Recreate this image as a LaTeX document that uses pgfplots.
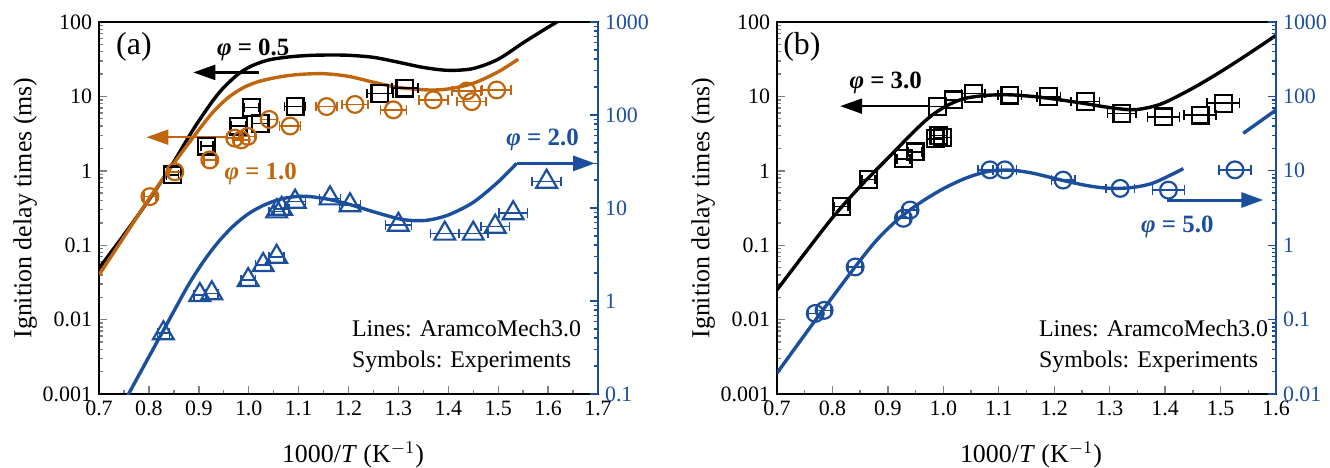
\documentclass[border=0pt]{standalone}
\usepackage{fontspec}
\setmainfont{Liberation Serif}
\usepackage{pgfplots}
\pgfplotsset{compat=1.18}
\usetikzlibrary{arrows.meta}
\definecolor{cOr}{HTML}{C0650C}
\definecolor{cBl}{HTML}{1B4F9E}
\pgfkeys{/pgf/number format/assume math mode=true}

\pgfplotsset{
  mk/.style={only marks, line width=1.1bp,
    error bars/x dir=both, error bars/x explicit,
    error bars/error mark=|,
    error bars/error bar style={line width=0.8bp},
    error bars/error mark options={mark size=2.4bp, line width=0.8bp}},
  curve/.style={line width=1.7bp, smooth, no marks},
}
\tikzset{
  phi/.style={font=\fontsize{12.5}{14}\selectfont\bfseries},
  note/.style={font=\fontsize{12}{14}\selectfont, anchor=base west},
  arr/.style={line width=1.1bp, -{Triangle[length=11bp,width=7.5bp]}},
}

\begin{document}
\begin{tikzpicture}
\useasboundingbox (-49.5bp,-37bp) rectangle (615.5bp,197bp);

% ---------------- panel (a), left axis ----------------
\begin{axis}[at={(0,0)}, anchor=south west,
  scale only axis, width=249.5bp, height=186bp, ymode=log,
  tick align=inside, major tick length=4bp, minor tick length=2.2bp,
  tick style={line width=0.7bp}, axis line style={line width=0.9bp},
  tick label style={font=\fontsize{11}{13}\selectfont},
  xmin=0.7, xmax=1.7, ymin=0.001, ymax=100,
  xtick={0.7,0.8,0.9,1.0,1.1,1.2,1.3,1.4,1.5,1.6,1.7}, minor x tick num=1,
  xticklabel style={/pgf/number format/.cd, fixed, fixed zerofill, precision=1},
  ytick={0.001,0.01,0.1,1,10,100}, yticklabels={0.001,0.01,0.1,1,10,100},
  minor ytick={0.002,0.003,0.004,0.005,0.006,0.007,0.008,0.009,
    0.02,0.03,0.04,0.05,0.06,0.07,0.08,0.09,0.2,0.3,0.4,0.5,0.6,0.7,0.8,0.9,
    2,3,4,5,6,7,8,9,20,30,40,50,60,70,80,90},
  xtick pos=bottom, ytick pos=left,
  xlabel={1000/\textit{T} (K$^{-1}$)}, ylabel={Ignition delay times (ms)},
  label style={font=\fontsize{13}{15}\selectfont},
  xlabel style={at={(axis description cs:0.509,-0.164)}, anchor=center},
  ylabel style={at={(axis description cs:-0.148,0.5)}, anchor=center},
]
\addplot[curve, black] coordinates {(0.70,0.049)(0.75,0.138)(0.80,0.407)(0.832,0.851)(0.85,1.318)(0.881,2.95)(0.90,4.68)(0.929,8.91)(0.95,13.18)(0.979,19.95)(1.006,25.7)(1.04,30.9)(1.08,33.9)(1.12,35.5)(1.16,36.0)(1.2,35.7)(1.25,33.5)(1.3,28.8)(1.35,24.5)(1.4,22.4)(1.45,23.7)(1.5,31.6)(1.55,52.5)(1.6,85)(1.65,135)};
\addplot[curve, cOr] coordinates {(0.70,0.0398)(0.75,0.129)(0.80,0.417)(0.85,1.259)(0.90,3.55)(0.93,6.31)(0.96,9.77)(0.99,13.18)(1.02,15.85)(1.06,18.2)(1.10,19.7)(1.15,20.2)(1.20,18.6)(1.25,15.5)(1.30,13.2)(1.36,12.2)(1.40,12.6)(1.45,15.0)(1.50,21.4)(1.54,31.6)};
\addplot[mk, black, mark=square, mark size=4.2bp] coordinates {
  (0.847,0.88) +- (0.012,0) (0.916,2.15) +- (0.012,0) (0.979,4.0) +- (0.015,0)
  (1.006,7.1) +- (0.015,0) (1.023,4.3) +- (0.015,0) (1.093,7.3) +- (0.021,0)
  (1.263,11.0) +- (0.026,0) (1.313,12.9) +- (0.026,0)};
\addplot[mk, cOr, mark=o, mark size=4.2bp] coordinates {
  (0.802,0.45) +- (0.012,0) (0.852,0.97) +- (0.012,0) (0.922,1.4) +- (0.012,0)
  (0.972,2.75) +- (0.015,0) (0.985,2.6) +- (0.015,0) (0.998,2.9) +- (0.015,0)
  (1.041,4.9) +- (0.015,0) (1.083,4.0) +- (0.021,0) (1.156,7.3) +- (0.021,0)
  (1.213,7.8) +- (0.026,0) (1.29,6.6) +- (0.026,0) (1.37,9.0) +- (0.029,0)
  (1.437,11.8) +- (0.029,0) (1.447,8.5) +- (0.029,0) (1.497,12.2) +- (0.029,0)};
\draw[arr, black] (axis cs:1.02,21) -- (axis cs:0.889,21);
\draw[arr, cOr] (axis cs:0.956,2.83) -- (axis cs:0.795,2.83);
\node[phi, black] at (axis cs:1.009,42) {\textit{φ} = 0.5};
\node[phi, cOr] at (axis cs:1.024,0.92) {\textit{φ} = 1.0};
\node[font=\fontsize{16}{18}\selectfont] at (rel axis cs:0.07,0.933) {(a)};
\node[note] at (rel axis cs:0.493,0.154) {Lines: AramcoMech3.0};
\node[note] at (rel axis cs:0.493,0.070) {Symbols: Experiments};
\end{axis}

% ---------------- panel (a), right axis ----------------
\begin{axis}[at={(0,0)}, anchor=south west,
  scale only axis, width=249.5bp, height=186bp, ymode=log,
  xmin=0.7, xmax=1.7, ymin=0.1, ymax=1000,
  axis x line=none, axis y line*=right,
  tick align=inside, major tick length=4bp, minor tick length=2.2bp,
  tick label style={font=\fontsize{11}{13}\selectfont},
  y axis line style={cBl, line width=0.9bp},
  ytick={0.1,1,10,100,1000}, yticklabels={0.1,1,10,100,1000},
  minor ytick={0.2,0.3,0.4,0.5,0.6,0.7,0.8,0.9,2,3,4,5,6,7,8,9,
    20,30,40,50,60,70,80,90,200,300,400,500,600,700,800,900},
  ytick style={cBl, line width=0.7bp}, yticklabel style={text=cBl},
]
\addplot[curve, cBl] coordinates {(0.75,0.0813)(0.80,0.251)(0.85,0.776)(0.88,1.514)(0.91,2.69)(0.94,4.37)(0.97,6.46)(1.00,8.71)(1.03,10.7)(1.06,12.3)(1.09,13.2)(1.12,13.3)(1.16,12.4)(1.20,11.0)(1.25,9.12)(1.30,7.67)(1.33,7.33)(1.36,7.41)(1.40,8.41)(1.45,11.5)(1.50,19.1)(1.537,30.2)};
\addplot[mk, cBl, mark=triangle, mark size=6bp] coordinates {
  (0.829,0.45) +- (0.012,0) (0.902,1.16) +- (0.012,0) (0.926,1.21) +- (0.012,0)
  (0.999,1.68) +- (0.015,0) (1.029,2.44) +- (0.015,0) (1.056,2.99) +- (0.015,0)
  (1.056,9.2) +- (0.015,0) (1.066,9.8) +- (0.015,0) (1.093,11.7) +- (0.021,0)
  (1.163,12.7) +- (0.021,0) (1.203,10.7) +- (0.021,0) (1.30,6.6) +- (0.026,0)
  (1.393,5.3) +- (0.029,0) (1.45,5.3) +- (0.029,0) (1.494,6.3) +- (0.029,0)
  (1.530,8.8) +- (0.029,0) (1.597,19.2) +- (0.029,0)};
\draw[arr, cBl, line width=1.5bp] (axis cs:1.537,30.2) -- (axis cs:1.694,30.2);
\node[phi, cBl] at (axis cs:1.589,54) {\textit{φ} = 2.0};
\end{axis}

% ---------------- panel (b), left axis ----------------
\begin{axis}[at={(339bp,0)}, anchor=south west,
  scale only axis, width=249.5bp, height=186bp, ymode=log,
  tick align=inside, major tick length=4bp, minor tick length=2.2bp,
  tick style={line width=0.7bp}, axis line style={line width=0.9bp},
  tick label style={font=\fontsize{11}{13}\selectfont},
  xmin=0.7, xmax=1.6, ymin=0.001, ymax=100,
  xtick={0.7,0.8,0.9,1.0,1.1,1.2,1.3,1.4,1.5,1.6}, minor x tick num=1,
  xticklabel style={/pgf/number format/.cd, fixed, fixed zerofill, precision=1},
  ytick={0.001,0.01,0.1,1,10,100}, yticklabels={0.001,0.01,0.1,1,10,100},
  minor ytick={0.002,0.003,0.004,0.005,0.006,0.007,0.008,0.009,
    0.02,0.03,0.04,0.05,0.06,0.07,0.08,0.09,0.2,0.3,0.4,0.5,0.6,0.7,0.8,0.9,
    2,3,4,5,6,7,8,9,20,30,40,50,60,70,80,90},
  xtick pos=bottom, ytick pos=left,
  xlabel={1000/\textit{T} (K$^{-1}$)}, ylabel={Ignition delay times (ms)},
  label style={font=\fontsize{13}{15}\selectfont},
  xlabel style={at={(axis description cs:0.509,-0.164)}, anchor=center},
  ylabel style={at={(axis description cs:-0.148,0.5)}, anchor=center},
]
\addplot[curve, black] coordinates {(0.70,0.0251)(0.75,0.0776)(0.80,0.234)(0.85,0.617)(0.90,1.479)(0.95,3.55)(0.98,5.62)(1.01,7.76)(1.04,9.44)(1.08,10.35)(1.12,10.5)(1.16,10.0)(1.20,9.23)(1.25,8.13)(1.30,7.08)(1.34,6.61)(1.37,7.08)(1.40,8.32)(1.45,12.9)(1.50,21.4)(1.55,37.2)(1.60,66.1)};
\addplot[mk, black, mark=square, mark size=4.2bp] coordinates {
  (0.816,0.33) +- (0.012,0) (0.865,0.76) +- (0.012,0) (0.928,1.45) +- (0.012,0)
  (0.949,1.8) +- (0.012,0) (0.985,2.7) +- (0.015,0) (0.992,3.0) +- (0.015,0)
  (0.999,2.8) +- (0.015,0) (0.99,7.3) +- (0.015,0) (1.018,9.0) +- (0.015,0)
  (1.054,11.0) +- (0.021,0) (1.12,10.4) +- (0.021,0) (1.19,9.9) +- (0.021,0)
  (1.256,8.5) +- (0.026,0) (1.322,5.9) +- (0.026,0) (1.397,5.3) +- (0.029,0)
  (1.463,5.6) +- (0.029,0) (1.505,8.1) +- (0.029,0)};
\draw[arr, black] (axis cs:0.976,7.4) -- (axis cs:0.814,7.4);
\node[phi, black] at (axis cs:0.896,15) {\textit{φ} = 3.0};
\node[font=\fontsize{16}{18}\selectfont] at (rel axis cs:0.05,0.933) {(b)};
\node[note] at (rel axis cs:0.511,0.154) {Lines: AramcoMech3.0};
\node[note] at (rel axis cs:0.511,0.070) {Symbols: Experiments};
\end{axis}

% ---------------- panel (b), right axis ----------------
\begin{axis}[at={(339bp,0)}, anchor=south west,
  scale only axis, width=249.5bp, height=186bp, ymode=log,
  xmin=0.7, xmax=1.6, ymin=0.01, ymax=1000,
  axis x line=none, axis y line*=right,
  tick align=inside, major tick length=4bp, minor tick length=2.2bp,
  tick label style={font=\fontsize{11}{13}\selectfont},
  y axis line style={cBl, line width=0.9bp},
  ytick={0.01,0.1,1,10,100,1000}, yticklabels={0.01,0.1,1,10,100,1000},
  minor ytick={0.02,0.03,0.04,0.05,0.06,0.07,0.08,0.09,0.2,0.3,0.4,0.5,0.6,0.7,0.8,0.9,
    2,3,4,5,6,7,8,9,20,30,40,50,60,70,80,90,200,300,400,500,600,700,800,900},
  ytick style={cBl, line width=0.7bp}, yticklabel style={text=cBl},
]
\addplot[curve, cBl] coordinates {(0.70,0.0191)(0.77,0.1)(0.84,0.501)(0.88,1.175)(0.92,2.29)(0.96,3.80)(1.00,5.75)(1.04,7.94)(1.08,9.77)(1.12,10.2)(1.16,9.33)(1.21,7.59)(1.26,6.31)(1.30,5.82)(1.34,5.96)(1.38,6.92)(1.433,10.7)};
\addplot[line width=1.7bp, cBl, no marks] coordinates {(1.541,31.9)(1.6,65.6)};
\addplot[mk, cBl, mark=o, mark size=4.2bp] coordinates {
  (0.769,0.121) +- (0.012,0) (0.785,0.133) +- (0.012,0) (0.841,0.51) +- (0.012,0)
  (0.928,2.3) +- (0.012,0) (0.94,2.97) +- (0.012,0) (1.084,10.3) +- (0.021,0)
  (1.111,10.3) +- (0.021,0) (1.216,7.5) +- (0.021,0) (1.319,5.8) +- (0.026,0)
  (1.406,5.5) +- (0.029,0) (1.526,10.3) +- (0.029,0)};
\draw[arr, cBl, line width=1.5bp] (axis cs:1.403,4.05) -- (axis cs:1.577,4.05);
\node[phi, cBl] at (axis cs:1.422,1.76) {\textit{φ} = 5.0};
\end{axis}
\end{tikzpicture}
\end{document}
